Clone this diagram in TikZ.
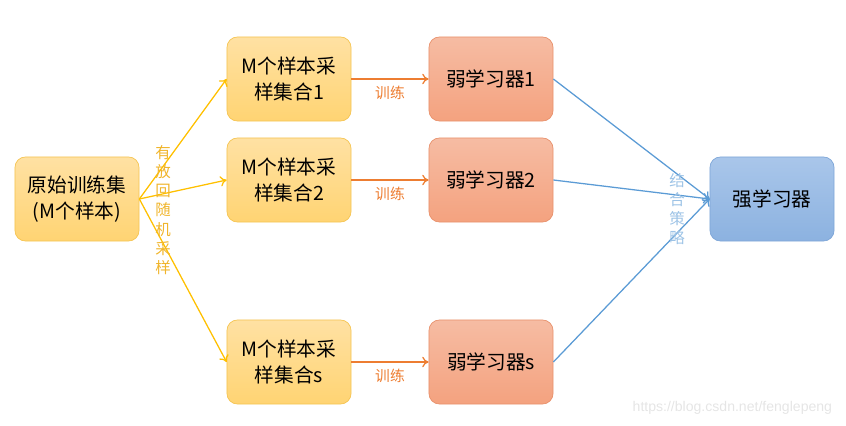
\documentclass[tikz,border=0pt]{standalone}
\usepackage{fontspec}
\setmainfont{Noto Sans CJK SC}
\newfontfamily\wmfont{Liberation Sans}
\usetikzlibrary{arrows.meta}
\definecolor{gelbo}{HTML}{FFE1A3}
\definecolor{gelbu}{HTML}{FFD473}
\definecolor{gelbr}{HTML}{F5C451}
\definecolor{gelbl}{HTML}{FFC000}
\definecolor{roto}{HTML}{F6BCA3}
\definecolor{rotu}{HTML}{F4A27F}
\definecolor{rotr}{HTML}{E8916C}
\definecolor{orl}{HTML}{ED7D31}
\definecolor{blauo}{HTML}{A9C6EA}
\definecolor{blauu}{HTML}{8CB2E0}
\definecolor{blaur}{HTML}{7EA6D8}
\definecolor{blaul}{HTML}{5B9BD5}
\definecolor{blaut}{HTML}{9DC3E6}
\definecolor{gelbt}{HTML}{F0B52C}
\tikzset{
  box/.style={rounded corners=2.6mm,minimum width=3.1cm,minimum height=2.1cm,
    align=center,font=\fontsize{14}{18}\selectfont,line width=0.5pt},
  gelb/.style={box,top color=gelbo,bottom color=gelbu,draw=gelbr},
  rot/.style={box,top color=roto,bottom color=rotu,draw=rotr},
  blau/.style={box,top color=blauo,bottom color=blauu,draw=blaur},
  pfg/.style={-{To[length=1.6mm,width=2.6mm]},gelbl,line width=0.9pt},
  pfo/.style={-{To[length=1.6mm,width=2.6mm]},orl,line width=0.9pt},
  pfb/.style={-{To[length=1.6mm,width=2.6mm]},blaul,line width=0.9pt},
  senk/.style={align=center,font=\fontsize{11}{13.6}\selectfont},
}

\begin{document}
\begin{tikzpicture}[x=0.025cm,y=-0.025cm]
  \useasboundingbox (0,0) rectangle (846,426);
  % Knoten
  \node[gelb] (quelle) at (77,199) {原始训练集\\(M个样本)};
  \node[gelb] (satz1) at (289,79) {M个样本采\\样集合1};
  \node[gelb] (satz2) at (289,180) {M个样本采\\样集合2};
  \node[gelb] (satzs) at (289,362) {M个样本采\\样集合s};
  \node[rot] (schw1) at (491,79) {弱学习器1};
  \node[rot] (schw2) at (491,180) {弱学习器2};
  \node[rot] (schws) at (491,362) {弱学习器s};
  \node[blau] (stark) at (772,199) {强学习器};
  % Pfeile
  \draw[pfg] (quelle.east) -- (satz1.west);
  \draw[pfg] (quelle.east) -- (satz2.west);
  \draw[pfg] (quelle.east) -- (satzs.west);
  \draw[pfo] (satz1) -- node[below,orl,font=\fontsize{10.5}{12}\selectfont,yshift=-1pt] (t1) {训练} (schw1);
  \draw[pfo] (satz2) -- node[below,orl,font=\fontsize{10.5}{12}\selectfont,yshift=-1pt] (t2) {训练} (schw2);
  \draw[pfo] (satzs) -- node[below,orl,font=\fontsize{10.5}{12}\selectfont,yshift=-1pt] (ts) {训练} (schws);
  \draw[pfb] (schw1.east) -- (stark.west);
  \draw[pfb] (schw2.east) -- (stark.west);
  \draw[pfb] (schws.east) -- (stark.west);
  % Beschriftungen
  \node[senk,gelbt] (samp) at (163,210) {有\\放\\回\\随\\机\\采\\样};
  \node[senk,blaut] (komb) at (677,209) {结\\合\\策\\略};
  \node[anchor=east,text=black!10,font=\wmfont\fontsize{10}{12}\selectfont] (wm) at (837,408) {https://blog.csdn.net/fenglepeng};
\end{tikzpicture}
\end{document}
